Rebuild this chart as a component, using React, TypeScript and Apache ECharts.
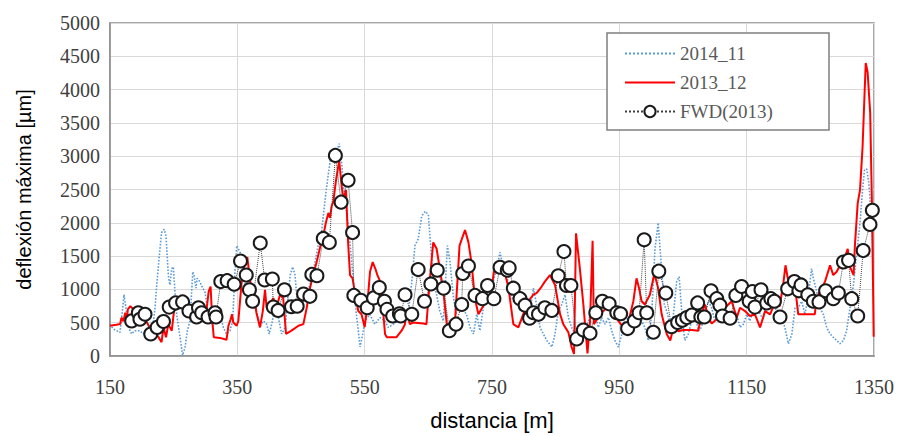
import React, { useEffect, useRef } from "react";
import * as echarts from "echarts";

// FWD (2013) measurements
const fwdDist = [184, 194.5, 197, 205, 214, 224, 234, 243, 253, 264, 274, 286, 289, 294, 304, 315, 316.5, 324, 334, 345, 355, 364, 369, 374, 386, 393, 405, 406.5, 414, 424, 435, 444, 454, 464, 467, 475, 485, 494.5, 504, 513, 524, 531, 533, 544, 554, 564, 573, 581, 585, 594, 604.5, 606.6, 613.4, 624, 634, 644, 654, 664, 674, 683, 693.5, 702.4, 704, 713, 723.3, 735, 743, 753, 762.6, 774, 777, 783.5, 794, 802, 809, 815, 823, 833, 844, 854, 863, 867, 874, 883, 893.5, 904, 913, 923.4, 934, 946, 952, 963, 973.6, 981, 989, 993, 1003.4, 1012, 1023, 1032, 1041.6, 1049, 1056, 1064, 1073, 1078, 1083.5, 1094, 1103, 1108, 1112, 1124, 1133, 1142, 1154, 1159, 1163, 1172.5, 1181.5, 1188, 1193.5, 1202.4, 1214.4, 1225, 1232, 1235.4, 1246, 1254.7, 1263.6, 1274, 1286, 1294, 1302, 1310, 1315, 1324.4, 1333, 1343.7, 1347.4];
const fwdVal = [527, 650, 552, 626, 331, 429, 518, 734, 797, 812, 675, 586, 724, 650, 586, 650, 586, 1117, 1131, 1077, 1426, 1215, 994, 822, 1696, 1141, 1156, 734, 684, 994, 739, 748, 930, 896, 1225, 1205, 1765, 1706, 3012, 2310, 2639, 1853, 910, 837, 724, 872, 1028, 822, 700, 601, 635, 601, 920, 626, 1298, 822, 1082, 1288, 1018, 380, 478, 773, 1239, 1352, 910, 861, 1058, 861, 1333, 1288, 1323, 1018, 861, 763, 567, 650, 626, 724, 684, 1205, 1568, 1058, 1058, 257, 390, 341, 650, 822, 783, 650, 635, 412, 527, 650, 1745, 650, 356, 1274, 945, 439, 503, 537, 577, 616, 797, 586, 586, 979, 861, 763, 601, 567, 910, 1043, 822, 969, 734, 994, 797, 861, 822, 586, 1009, 1117, 979, 1067, 920, 822, 812, 979, 861, 945, 1411, 1436, 861, 601, 1583, 1976, 2187];

// 2013_12 profile
const d2013Dist = [150, 160, 166, 168, 171, 174, 176, 178, 182, 187, 192, 200, 208, 215, 223, 231, 234, 238, 241.6, 247, 250.5, 253.7, 257, 262.6, 268, 275.7, 283.5, 290, 295.6, 302, 305, 308, 310.7, 313, 322.8, 333, 336, 339.5, 341.6, 343.7, 349, 351.6, 356.8, 362, 365.7, 369, 372.5, 376, 380, 385.6, 390, 393.5, 396, 401, 406.6, 410.8, 417, 422, 426.5, 435, 446, 453.7, 459, 464, 469, 474.6, 480, 485, 489, 493, 495.6, 498, 500.8, 505, 510, 514, 516.5, 520.7, 524, 527, 531, 535, 540, 545, 550, 553.8, 558.4, 562.6, 566.7, 570, 574.5, 578, 582, 584.6, 600, 608, 613, 616, 621, 626, 642, 647, 652.6, 657.7, 663, 668, 673.6, 679, 684, 692, 699, 707.6, 713, 718, 723, 728.6, 739, 747, 753, 760, 768, 776, 783.5, 791.4, 799, 807, 815, 820, 828, 833, 841, 849, 857, 862, 870, 875, 878.8, 882, 888, 893.5, 900, 904, 908, 910, 920, 930, 938, 948.5, 956, 964, 972, 977, 981, 985, 990, 998, 1005, 1011, 1016.5, 1024.4, 1030, 1035, 1043, 1050.5, 1063.6, 1074, 1079, 1084.6, 1090, 1095, 1103, 1111, 1116, 1126.5, 1134.4, 1139.5, 1147.4, 1155, 1163, 1171, 1179, 1186.7, 1194.5, 1202, 1207.6, 1211, 1215.5, 1221, 1226, 1231, 1257, 1260, 1265, 1273, 1281, 1286, 1291.4, 1296.6, 1302, 1308.7, 1312.3, 1318, 1320, 1324.4, 1328, 1332, 1337, 1340, 1344, 1347, 1349.5];
const d2013Val = [454, 470, 480, 577, 520, 650, 500, 700, 748, 700, 626, 586, 503, 380, 331, 208, 430, 282, 478, 380, 675, 724, 773, 797, 700, 626, 601, 626, 527, 724, 969, 1043, 527, 282, 272, 243, 454, 552, 626, 503, 454, 527, 1117, 1411, 1485, 1215, 969, 920, 650, 429, 675, 994, 724, 773, 871, 700, 920, 871, 331, 380, 454, 478, 724, 1018, 1215, 1411, 1632, 1804, 2000, 2148, 2074, 2246, 2320, 2639, 2933, 2540, 2344, 2491, 1706, 1215, 1166, 920, 675, 626, 434, 724, 1264, 1411, 1313, 1215, 1117, 773, 331, 283, 283, 380, 470, 675, 478, 503, 488, 478, 1170, 1705, 1610, 1313, 969, 478, 331, 527, 1657, 1892, 1706, 1387, 871, 626, 797, 846, 1264, 1411, 1338, 1018, 478, 429, 626, 822, 920, 945, 1043, 1117, 1215, 1067, 626, 478, 355, 135, 30, 1843, 1313, 773, 40, 527, 1730, 478, 626, 724, 700, 527, 429, 503, 822, 1166, 1018, 822, 773, 920, 1239, 1018, 626, 331, 233, 429, 371, 390, 390, 380, 626, 773, 577, 488, 552, 626, 724, 822, 577, 724, 675, 601, 626, 429, 675, 626, 797, 748, 1092, 1362, 1117, 1067, 1043, 626, 626, 871, 969, 1117, 1362, 1215, 1264, 1362, 1411, 1608, 1338, 1215, 1657, 2295, 2491, 3130, 4400, 4260, 3650, 2150, 290];

// 2014_11 profile
const d2014Dist = [150, 155, 160.5, 165.7, 170, 172, 175, 179, 184, 189, 197, 202, 207.6, 213, 218, 220.7, 223, 227.5, 231, 235, 238, 241.6, 244, 247, 249.5, 252, 254.7, 260, 264, 268, 271.5, 275.7, 280, 282, 285, 287, 291, 295.6, 299, 304.5, 309.7, 313, 317.5, 322.8, 328, 333, 338.5, 342.7, 346, 349, 351.6, 356.8, 359, 364.7, 370, 376, 381, 385.6, 391, 396, 400, 404, 409, 414, 419.6, 425, 433, 437, 440.6, 444, 449.5, 454.7, 460, 464, 468, 472, 477, 481, 485, 489, 493, 496.6, 500.8, 505, 510, 514, 516.5, 521.7, 526, 529.6, 533, 536.4, 540, 542.7, 547, 550.5, 558, 566, 574, 582, 587, 595, 603, 611, 618.6, 624, 629, 634, 639.6, 645, 650, 653.7, 658, 663, 668, 673.6, 680, 684, 689, 693.5, 697, 702.4, 710, 715.5, 721, 726, 731, 736.4, 741.6, 747, 752, 757.4, 762.6, 768, 773, 778, 783.5, 789, 794, 799, 804.5, 809.7, 815, 820, 825.4, 830.7, 836, 844, 849, 854, 859.5, 864.7, 870, 875, 880.4, 888, 896, 901.4, 906.6, 912, 917, 922.3, 927.5, 933, 938, 943, 948.5, 954, 959, 964, 969.4, 974.6, 980, 985, 990, 995.6, 1000.8, 1006, 1011, 1015.5, 1020.7, 1026, 1032, 1040, 1044, 1049, 1053, 1058.4, 1063.6, 1069, 1074, 1079, 1084.6, 1090, 1095, 1100, 1105.5, 1111, 1116, 1124, 1129, 1134.4, 1139.5, 1145, 1150, 1155, 1160.5, 1165.7, 1171, 1176, 1181.5, 1185, 1189, 1197, 1205, 1210, 1215.5, 1221, 1226, 1231, 1236.4, 1241.6, 1247, 1252, 1254.7, 1260, 1265, 1270.4, 1275.7, 1281, 1286, 1291.4, 1296.6, 1302, 1307, 1312.3, 1317.6, 1323, 1328, 1332, 1335, 1338.5, 1342, 1346.4, 1349];
const d2014Val = [478, 405, 380, 355, 724, 920, 724, 429, 331, 380, 380, 331, 380, 454, 503, 724, 1018, 1510, 1853, 1902, 1804, 1215, 1067, 1313, 1338, 969, 626, 282, 12, 135, 380, 527, 1264, 1215, 1018, 1166, 1117, 1018, 969, 626, 478, 626, 724, 626, 429, 331, 380, 527, 1215, 1657, 1608, 1510, 1215, 969, 822, 822, 626, 454, 527, 478, 331, 478, 724, 601, 331, 429, 1215, 1338, 1215, 822, 773, 871, 969, 1067, 1215, 1411, 1657, 1755, 2099, 2442, 2737, 2982, 2933, 3032, 3189, 2884, 2565, 2148, 1804, 1411, 1067, 675, 380, 135, 331, 527, 626, 478, 577, 527, 429, 478, 527, 601, 650, 1117, 1657, 1755, 2099, 2172, 2123, 1657, 1117, 920, 675, 527, 1657, 1411, 920, 626, 822, 724, 626, 429, 331, 626, 380, 724, 871, 969, 1117, 1313, 1558, 1313, 1215, 969, 822, 871, 675, 871, 822, 675, 1018, 773, 429, 331, 233, 135, 331, 675, 773, 920, 577, 429, 331, 331, 380, 527, 724, 626, 429, 577, 478, 577, 380, 233, 135, 331, 620, 527, 577, 675, 724, 527, 429, 233, 626, 1608, 1999, 1411, 773, 626, 331, 1117, 1190, 527, 233, 331, 527, 626, 380, 429, 675, 822, 724, 527, 626, 724, 577, 478, 675, 626, 429, 478, 626, 527, 675, 822, 626, 552, 871, 969, 822, 675, 577, 429, 184, 331, 724, 724, 822, 626, 920, 1313, 1166, 969, 724, 626, 429, 331, 282, 233, 184, 233, 380, 724, 1067, 1558, 1999, 2491, 2786, 2810, 2590, 1999, 1411];

const xTicks = [150, 350, 550, 750, 950, 1150, 1350];
const legendNames = ["2014_11", "2013_12", "FWD(2013)"];

const zip = (a: number[], b: number[]) => a.map((v, i) => [v, b[i]]);

export default function App() {
  const ref = useRef<HTMLDivElement>(null);
  useEffect(() => {
    if (!ref.current) return;
    const chart = echarts.init(ref.current, undefined, { renderer: "svg" });
    const serif = "'Liberation Serif', 'Times New Roman', serif";
    const sans = "'Liberation Sans', Arial, sans-serif";
    chart.setOption({
      animation: false,
      backgroundColor: "#ffffff",
      grid: {
        left: 110,
        right: 24,
        top: 23,
        bottom: 73,
        show: true,
        borderColor: "#8c8c8c",
        borderWidth: 1.5,
      },
      graphic: [
        {
          type: "rect",
          shape: { x: 607, y: 33, width: 222, height: 97 },
          style: { fill: "#ffffff", stroke: "#7f7f7f", lineWidth: 1.5 },
          z: 20,
        },
      ],
      legend: {
        data: [
          { name: legendNames[0], itemStyle: { opacity: 0 } },
          { name: legendNames[1], itemStyle: { opacity: 0 } },
          { name: legendNames[2] },
        ],
        orient: "vertical",
        left: 619,
        top: 39,
        itemWidth: 50,
        itemHeight: 14,
        itemGap: 10,
        z: 30,
        textStyle: { fontFamily: serif, fontSize: 19, color: "#595959" },
      },
      xAxis: {
        type: "value",
        min: 150,
        max: 1350,
        interval: 200,
        name: "distancia [m]",
        nameLocation: "middle",
        nameGap: 53,
        nameTextStyle: { fontFamily: sans, fontSize: 22, color: "#000" },
        axisLine: { show: true, onZero: false, lineStyle: { color: "#8c8c8c", width: 1.5 } },
        axisTick: { show: false },
        axisLabel: {
          fontFamily: serif,
          fontSize: 20,
          color: "#404040",
          margin: 21,
          customValues: xTicks,
          formatter: (v: number) => String(v),
        },
        splitLine: { show: true, lineStyle: { color: "#d9d9d9", width: 1 } },
      },
      yAxis: {
        type: "value",
        min: 0,
        max: 5000,
        interval: 500,
        name: "deflexión máxima [µm]",
        nameLocation: "middle",
        nameGap: 76,
        nameTextStyle: { fontFamily: sans, fontSize: 20, color: "#000" },
        axisLine: { show: true, lineStyle: { color: "#8c8c8c", width: 1.5 } },
        axisTick: { show: false },
        axisLabel: {
          fontFamily: serif,
          fontSize: 20,
          color: "#404040",
          margin: 10,
          formatter: (v: number) => String(v),
        },
        splitLine: { show: true, lineStyle: { color: "#d9d9d9", width: 1 } },
      },
      series: [
        {
          name: "2014_11",
          type: "line",
          data: zip(d2014Dist, d2014Val),
          showSymbol: false,
          symbol: "none",
          lineStyle: { color: "#5b9bd5", width: 1.6, type: "dotted" },
          itemStyle: { color: "#5b9bd5" },
          z: 2,
        },
        {
          name: "2013_12",
          type: "line",
          data: zip(d2013Dist, d2013Val),
          showSymbol: false,
          symbol: "none",
          lineStyle: { color: "#ff0000", width: 2 },
          itemStyle: { color: "#ff0000" },
          z: 3,
        },
        {
          name: "FWD(2013)",
          type: "line",
          data: zip(fwdDist, fwdVal),
          symbol: "circle",
          symbolSize: 13,
          showAllSymbol: true,
          lineStyle: { color: "#404040", width: 1, type: "dotted" },
          itemStyle: { color: "#ffffff", borderColor: "#1a1a1a", borderWidth: 2 },
          z: 4,
        },
      ],
    });
    return () => chart.dispose();
  }, []);
  return (
    <div
      ref={ref}
      style={{ position: "absolute", left: 0, top: 0, width: 898, height: 436 }}
    />
  );
}
